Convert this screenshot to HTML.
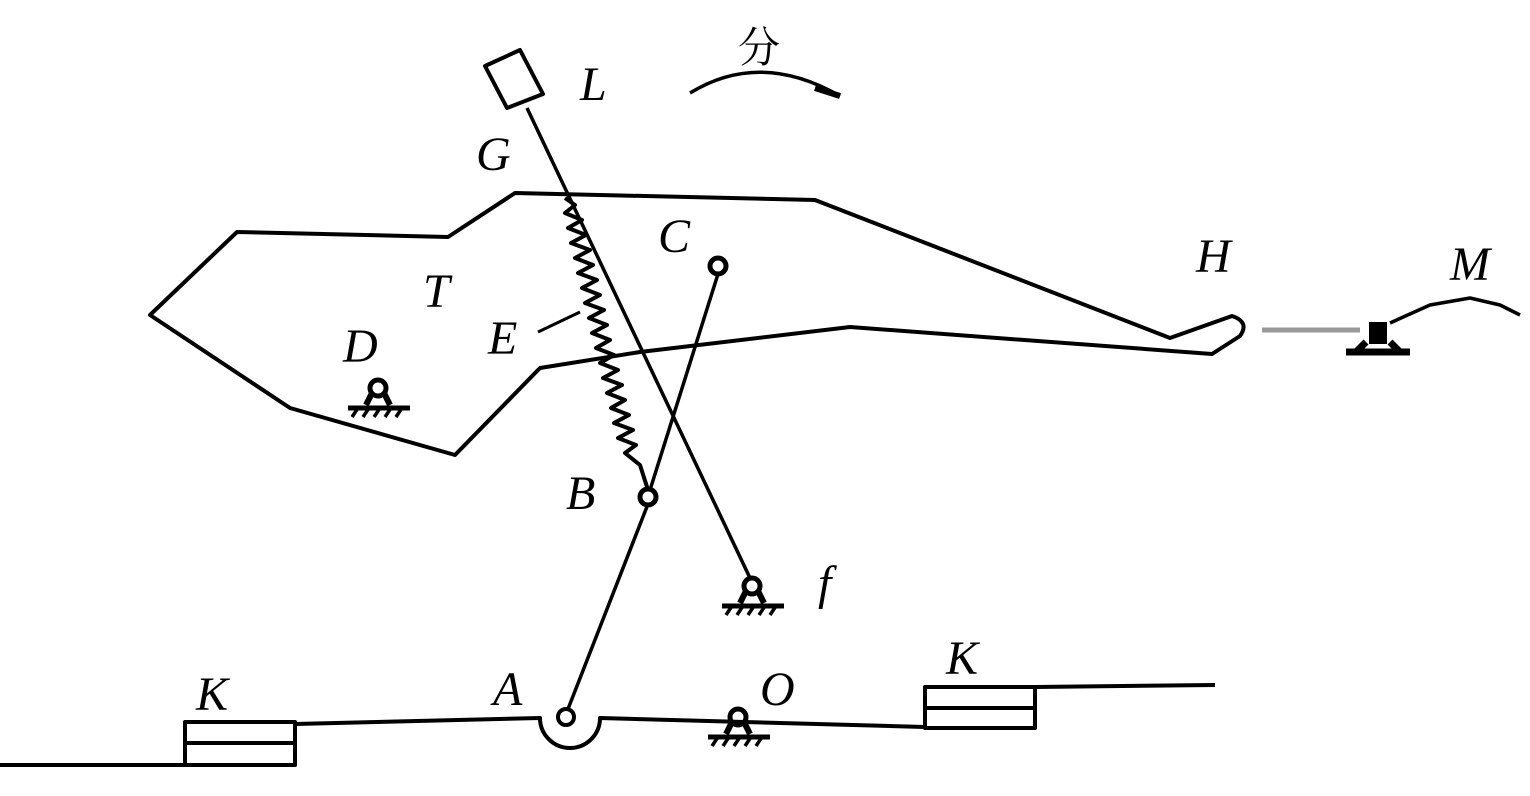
<!DOCTYPE html>
<html><head><meta charset="utf-8"><style>
html,body{margin:0;padding:0;background:#fff;}
svg{display:block;}
text{font-family:"Liberation Serif","Noto Serif CJK SC",serif;font-style:italic;font-size:48px;fill:#000;}
</style></head><body>
<svg width="1530" height="796" viewBox="0 0 1530 796" xmlns="http://www.w3.org/2000/svg">
<defs>
<g id="piv">
<circle cx="0" cy="-9" r="8" fill="none" stroke="#000" stroke-width="5"/>
<path d="M-12,8 L-6,-4 M12,8 L6,-4" stroke="#000" stroke-width="6"/>
<line x1="-30" y1="11" x2="32" y2="11" stroke="#000" stroke-width="5"/>
<path d="M-26,20 L-20,11 M-15,20 L-9,11 M-4,20 L2,11 M7,20 L13,11 M18,20 L24,11" stroke="#000" stroke-width="3.5"/>
</g>
</defs>
<g fill="none" stroke="#000" stroke-width="4" stroke-linejoin="round">
<path d="M150,315 L237,232 L448,237 L515,193 L815,200 L1170,338 L1232,316 Q1250,322 1240,336 L1212,354 L850,327 L640,352 L540,368 L455,455 L290,408 Z"/>
<path d="M485,66 L520,50 L543,94 L507,108 Z"/>
<line x1="527" y1="108" x2="750" y2="578" stroke-width="3.5"/>
<line x1="718" y1="274" x2="650" y2="490" stroke-width="3.5"/>
<circle cx="718" cy="266" r="8" stroke-width="5"/>
<line x1="648" y1="504" x2="568" y2="709" stroke-width="3.5"/>
<circle cx="648" cy="497" r="8" stroke-width="5"/>
<circle cx="566" cy="717" r="8"/>
<path d="M565,198 L575,205 L565,213 L582,220 L568,228 L586,235 L571,243 L590,250 L575,258 L593,265 L578,273 L597,280 L582,288 L600,295 L585,303 L604,310 L589,318 L607,325 L592,333 L610,340 L596,348 L614,355 L600,363 L618,370 L603,378 L622,385 L607,393 L625,400 L611,408 L629,415 L614,423 L633,430 L618,438 L636,445 L625,453 L640,465 L648,490" stroke-width="4"/>
<line x1="538" y1="332" x2="580" y2="312" stroke-width="3"/>
<path d="M690,93 Q760,50 840,96" stroke-width="3.5"/>
<path d="M815,88 L840,96" stroke-width="6"/>
<line x1="1262" y1="330" x2="1360" y2="330" stroke="#999" stroke-width="5"/>
<path d="M1390,323 L1430,305 L1470,298 L1500,305 L1520,315" stroke-width="3.5"/>
<path d="M0,765 L185,765 M185,722 L295,722 L295,765 L185,765 Z M185,743 L295,743 M295,724 L540,718 A30,30 0 0 0 600,718 L925,727 M925,687 L1035,687 L1035,728 L925,728 Z M925,708 L1035,708 M1035,687 L1215,685"/>
</g>
<use href="#piv" x="378" y="397"/>
<use href="#piv" x="752" y="595"/>
<use href="#piv" x="738" y="726"/>
<g transform="translate(1378,340)">
<rect x="-9" y="-18" width="18" height="22" fill="#000"/>
<line x1="-32" y1="12" x2="32" y2="12" stroke="#000" stroke-width="7"/>
<path d="M-12,2 L-22,12 M12,2 L22,12" stroke="#000" stroke-width="7"/>
</g>
<text x="738" y="62" style="font-style:normal;font-size:42px">分</text>
<text x="580" y="100">L</text>
<text x="476" y="170">G</text>
<text x="658" y="252">C</text>
<text x="1196" y="272">H</text>
<text x="1450" y="280">M</text>
<text x="423" y="307">T</text>
<text x="488" y="354">E</text>
<text x="343" y="362">D</text>
<text x="566" y="509">B</text>
<text x="818" y="599">f</text>
<text x="493" y="705">A</text>
<text x="760" y="705">O</text>
<text x="196" y="710">K</text>
<text x="946" y="674">K</text>
</svg>
</body></html>
